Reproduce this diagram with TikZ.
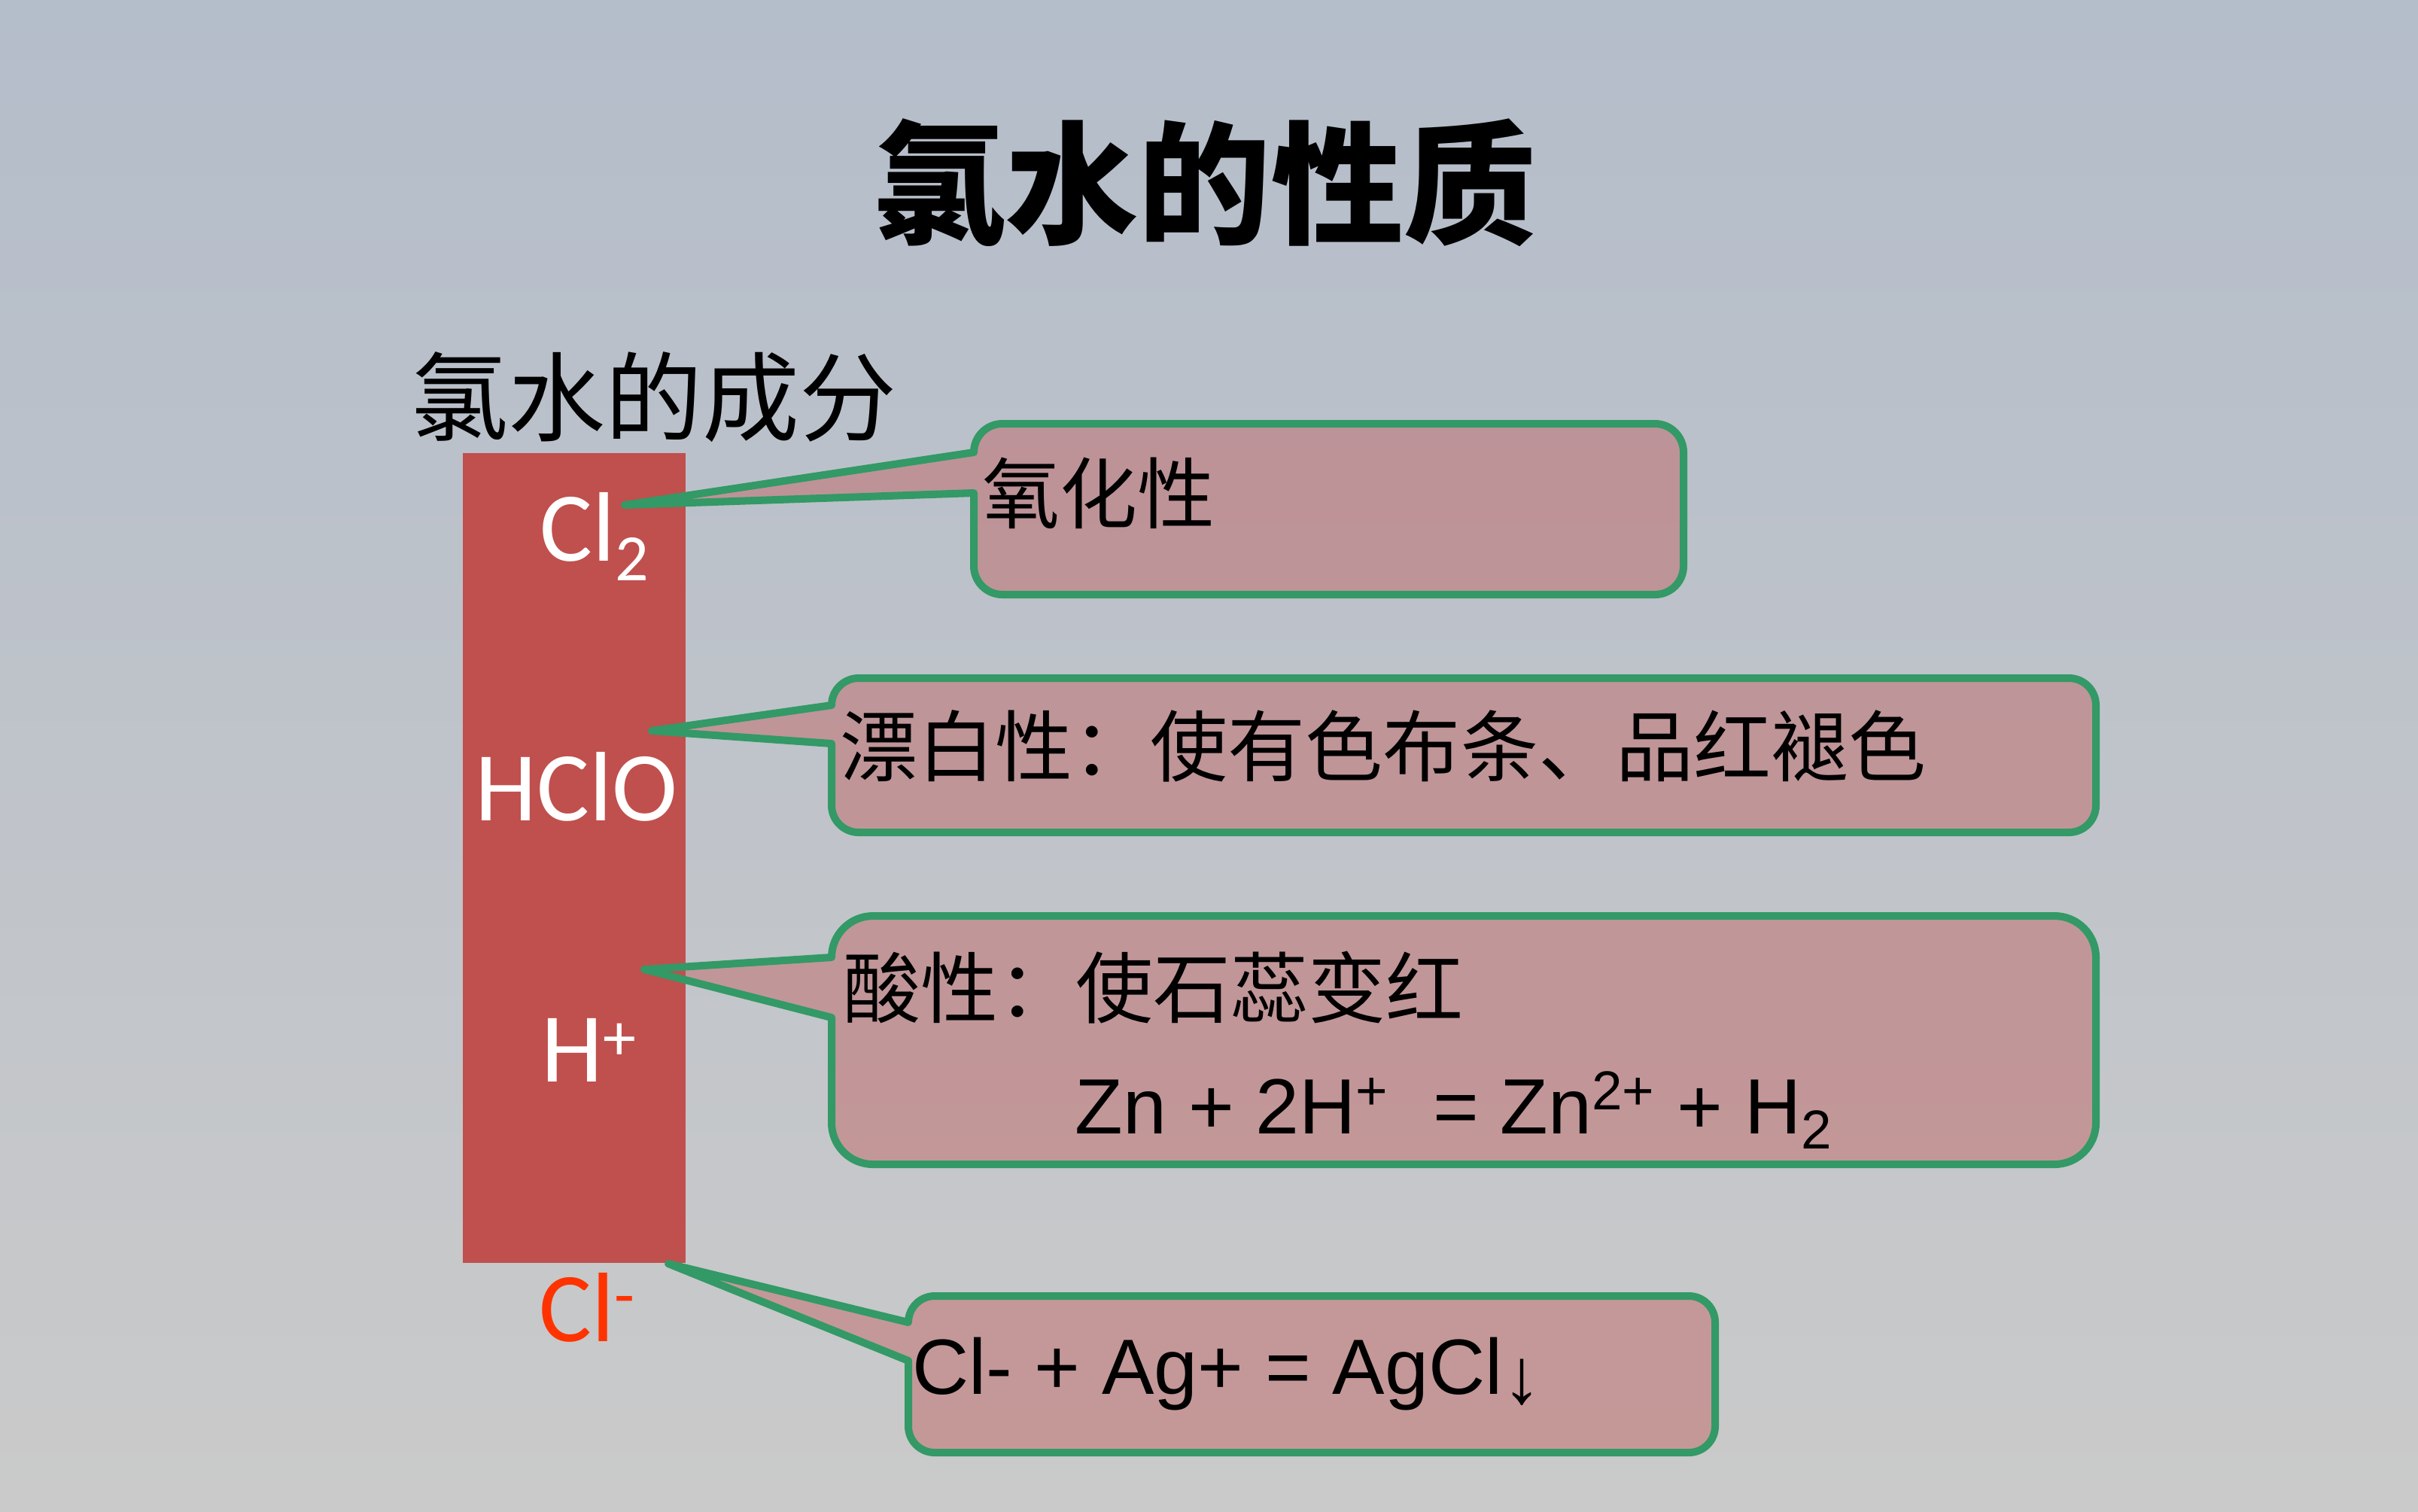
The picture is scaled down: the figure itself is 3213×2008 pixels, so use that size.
\documentclass[tikz,border=0pt]{standalone}
\usepackage{fontspec}
\newfontfamily\cjk{Noto Sans CJK SC}
\newfontfamily\calib{Carlito}
\newfontfamily\arialf{Liberation Sans}
\definecolor{barred}{RGB}{192,80,77}
\definecolor{calgreen}{RGB}{51,153,102}
\definecolor{clred}{RGB}{255,51,0}
\definecolor{bgtop}{RGB}{180,189,202}
\definecolor{bgmid}{RGB}{199,200,204}
\definecolor{bgbot}{RGB}{202,202,202}
\tikzset{
  calloutstyle/.style={draw=calgreen, line width=0.1cm, fill=barred, fill opacity=0.4, line join=round},
  bartext/.style={anchor=base west, inner sep=0pt, text=white, font=\calib\fontsize{37.3pt}{44pt}\selectfont},
  boxcjk/.style={anchor=base west, inner sep=0pt, font=\cjk\fontsize{29.3pt}{35pt}\selectfont},
  boxeq/.style={anchor=base west, inner sep=0pt, font=\arialf\fontsize{29.6pt}{36pt}\selectfont},
}
% x1 x2 ytop ybot r ya yb tip  (y given as pixels downward)
\newcommand\calloutshape[8]{%
  \filldraw[calloutstyle] (#1,-#6) -- (#8) -- (#1,-#7)
    -- (#1,{-#4+#5}) arc[start angle=180,end angle=270,radius={#5*0.01cm}]
    -- ({#2-#5},-#4) arc[start angle=270,end angle=360,radius={#5*0.01cm}]
    -- (#2,{-#3-#5}) arc[start angle=0,end angle=90,radius={#5*0.01cm}]
    -- ({#1+#5},-#3) arc[start angle=90,end angle=180,radius={#5*0.01cm}]
    -- cycle;}
\begin{document}
\begin{tikzpicture}[x=0.01cm,y=0.01cm]
\useasboundingbox (0,0) rectangle (3213,-2008);
\shade[top color=bgtop, middle color=bgmid, bottom color=bgbot] (0,0) rectangle (3213,-2008);

% title and subtitle
\node[anchor=base, inner sep=0pt, font=\cjk\bfseries\fontsize{50.1pt}{60pt}\selectfont] (title) at (1601,-310) {氯水的性质};
\node[anchor=base west, inner sep=0pt, font=\cjk\fontsize{36.7pt}{44pt}\selectfont] (sub) at (546,-576) {氯水的成分};

% red bar
\fill[barred] (615,-602) rectangle (911,-1678);

% callout tips
\coordinate (tip1) at (830,-671);
\coordinate (tip2) at (866,-971);
\coordinate (tip3) at (856,-1288);
\coordinate (tip4) at (888,-1679);

% callouts
\calloutshape{1294}{2237}{563}{790}{38}{601}{655}{tip1}
\calloutshape{1105}{2785}{901}{1106}{36}{937}{988}{tip2}
\calloutshape{1105}{2785}{1217}{1547}{55}{1272}{1352}{tip3}
\calloutshape{1207}{2279}{1722}{1930}{35}{1757}{1808}{tip4}

% bar labels
\node[bartext] (lcl2) at (717,-745) {Cl\raisebox{-0.2em}{\fontsize{25pt}{30pt}\selectfont 2}};
\node[bartext] (lhclo) at (631,-1090) {HClO};
\node[bartext] (lh) at (719,-1437) {H\raisebox{0.22em}{\fontsize{25pt}{30pt}\selectfont +}};
\node[bartext, text=clred] (lcl) at (716,-1782) {Cl\raisebox{0.24em}{\fontsize{25pt}{30pt}\selectfont -}};

% callout texts
\node[boxcjk] (t1) at (1305,-694) {氧化性};
\node[boxcjk] (t2) at (1116,-1030) {漂白性：使有色布条、品红褪色};
\node[boxcjk] (t3) at (1120,-1351) {酸性：使石蕊变红};
\node[boxeq] (t3b) at (1428,-1506) {Zn + 2H\textsuperscript{+}~ = Zn\textsuperscript{2+} + H\textsubscript{2}};
\node[boxeq] (t4) at (1212,-1852) {Cl- + Ag+ = AgCl\raisebox{-0.12em}{↓}};
\end{tikzpicture}
\end{document}
